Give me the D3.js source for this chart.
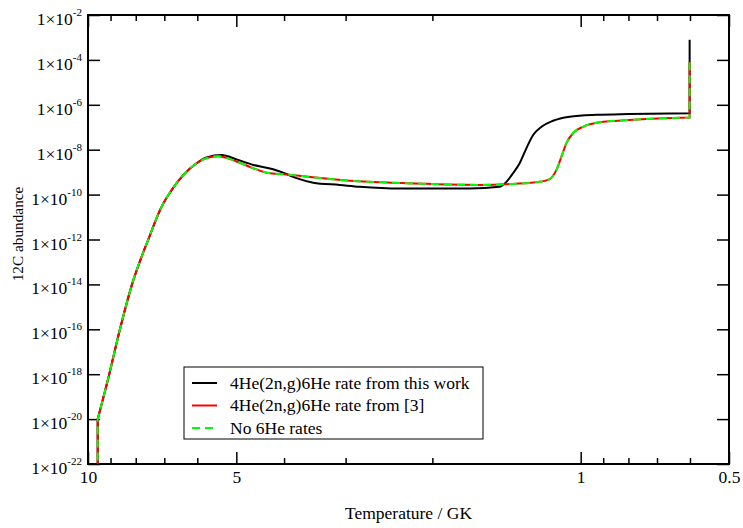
<!DOCTYPE html>
<html>
<head>
<meta charset="utf-8">
<script src="https://cdn.jsdelivr.net/npm/d3@7"></script>
<style>
  html, body { margin: 0; padding: 0; background: #fff; }
  svg { display: block; font-family: "Liberation Serif", "Times New Roman", serif; }
</style>
</head>
<body>
<svg id="chart" width="743" height="528"></svg>
<script>
// ---- Data ----
const seriesNames = ["4He(2n,g)6He rate from this work", "4He(2n,g)6He rate from [3]", "No 6He rates"];
const seriesColors = ["#000000", "#ff0000", "#00ff00"];

// Temperature (GK) and 12C abundance, "this work"
const tempThisWork = [9.557, 9.557, 9.054, 8.613, 8.140, 7.544, 7.088, 6.764, 6.408, 6.020, 5.745,
  5.356, 4.993, 4.620, 4.209, 4.017, 3.773, 3.491, 3.083, 2.807, 2.328, 1.680, 1.460, 1.415, 1.372, 1.330,
  1.289, 1.249, 1.201, 1.138, 1.053, 0.929, 0.796, 0.601, 0.601];
const abundThisWork = [1e-23, 9.8e-21, 1.0e-18, 1.0e-16, 1.0e-14, 1.0e-12, 2.9e-11, 1.6e-10, 7.4e-10, 2.5e-9, 4.5e-9,
  5.75e-9, 3.7e-9, 2.1e-9, 1.35e-9, 9.5e-10, 5.4e-10, 3.4e-10, 2.7e-10, 2.24e-10, 1.86e-10, 1.86e-10, 2.24e-10, 3.7e-10, 8.9e-10, 2.5e-9,
  1.15e-8, 4.5e-8, 1.05e-7, 1.95e-7, 2.95e-7, 3.6e-7, 3.9e-7, 4.2e-7, 7.8e-4];

// "from [3]"
const tempRef3 = [9.557, 9.557, 9.054, 8.613, 8.140, 7.544, 7.088, 6.764, 6.408, 6.020, 5.745,
  5.442, 4.993, 4.620, 4.341, 3.954, 3.496, 2.988, 2.328, 1.603, 1.372, 1.211, 1.156, 1.120, 1.094, 1.069,
  1.037, 0.989, 0.915, 0.796, 0.681, 0.601, 0.601];
const abundRef3 = [1e-23, 9.8e-21, 1.0e-18, 1.0e-16, 1.0e-14, 1.0e-12, 2.9e-11, 1.6e-10, 7.4e-10, 2.5e-9, 4.2e-9,
  5.1e-9, 3.0e-9, 1.5e-9, 9.5e-10, 7.9e-10, 5.9e-10, 4.2e-10, 3.3e-10, 2.7e-10, 3.0e-10, 3.7e-10, 4.9e-10, 1.26e-9, 4.9e-9, 1.95e-8,
  5.4e-8, 1.05e-7, 1.66e-7, 2.1e-7, 2.5e-7, 2.7e-7, 8.1e-5];

// "No 6He rates"
const tempNo6He = [9.557, 9.557, 9.054, 8.613, 8.140, 7.544, 7.088, 6.764, 6.408, 6.020, 5.745,
  5.442, 4.993, 4.620, 4.341, 3.954, 3.496, 2.988, 2.328, 1.603, 1.372, 1.211, 1.156, 1.120, 1.094, 1.069,
  1.037, 0.989, 0.915, 0.796, 0.681, 0.601, 0.601];
const abundNo6He = [1e-23, 9.8e-21, 1.0e-18, 1.0e-16, 1.0e-14, 1.0e-12, 2.9e-11, 1.6e-10, 7.4e-10, 2.5e-9, 4.2e-9,
  5.1e-9, 3.0e-9, 1.5e-9, 9.5e-10, 7.9e-10, 5.9e-10, 4.2e-10, 3.3e-10, 2.7e-10, 3.0e-10, 3.7e-10, 4.9e-10, 1.26e-9, 4.9e-9, 1.95e-8,
  5.4e-8, 1.05e-7, 1.66e-7, 2.1e-7, 2.5e-7, 2.7e-7, 8.1e-5];

const xMajorTicks = [10, 5, 1, 0.5];
const xTickLabels = ["10", "5", "1", "0.5"];
const xMinorTicks = [9, 8, 7, 6, 4, 3, 2, 0.9, 0.8, 0.7, 0.6];
const yTickExponents = [-2, -4, -6, -8, -10, -12, -14, -16, -18, -20, -22];

// ---- Layout ----
const svg = d3.select("#chart");
const L = 88, R = 729, T = 15, B = 464;

const x = d3.scaleLog().domain([10, 0.5]).range([L, R]);
const y = d3.scaleLog().domain([1e-22, 1e-2]).range([B, T]);

svg.append("defs").append("clipPath").attr("id", "clip")
  .append("rect").attr("x", L).attr("y", T).attr("width", R - L).attr("height", B - T);

// ---- Axes ----
const fs = 17.5;
const yTickVals = yTickExponents.map(e => Math.pow(10, e));

const bottomMajor = svg.append("g").attr("transform", `translate(0,${B})`)
  .call(d3.axisBottom(x).tickValues(xMajorTicks).tickSize(-12).tickPadding(7)
    .tickFormat((d, i) => xTickLabels[i]));
svg.append("g").attr("transform", `translate(0,${B})`)
  .call(d3.axisBottom(x).tickValues(xMinorTicks).tickSize(-6).tickFormat(""));
svg.append("g").attr("transform", `translate(0,${T})`)
  .call(d3.axisTop(x).tickValues(xMajorTicks).tickSize(-12).tickFormat(""));
svg.append("g").attr("transform", `translate(0,${T})`)
  .call(d3.axisTop(x).tickValues(xMinorTicks).tickSize(-6).tickFormat(""));
svg.append("g").attr("transform", `translate(${L},0)`)
  .call(d3.axisLeft(y).tickValues(yTickVals).tickSize(-12).tickFormat(""));
svg.append("g").attr("transform", `translate(${R},0)`)
  .call(d3.axisRight(y).tickValues(yTickVals).tickSize(-12).tickFormat(""));

svg.selectAll(".domain").remove();
svg.selectAll(".tick line").attr("stroke", "#000").attr("stroke-width", 1.5);
bottomMajor.selectAll(".tick text")
  .attr("font-family", "Liberation Serif").attr("font-size", fs).attr("fill", "#000")
  .attr("dy", null).attr("y", 19);

// y tick labels with superscripts
yTickExponents.forEach(e => {
  const t = svg.append("text")
    .attr("x", 82).attr("y", y(Math.pow(10, e)) + 10)
    .attr("text-anchor", "end")
    .attr("font-size", fs).attr("fill", "#000");
  t.append("tspan").text("1×10");
  t.append("tspan").attr("dy", -9).attr("font-size", 11).text(String(e));
});

// frame
svg.append("rect").attr("x", L).attr("y", T).attr("width", R - L).attr("height", B - T)
  .attr("fill", "none").attr("stroke", "#000").attr("stroke-width", 2);

// axis titles
svg.append("text").attr("x", (L + R) / 2).attr("y", 519).attr("text-anchor", "middle")
  .attr("font-size", fs).text("Temperature / GK");
svg.append("text").attr("transform", "translate(23,234) rotate(-90)").attr("text-anchor", "middle")
  .attr("font-size", 15.3).text("12C abundance");

// ---- Lines ----
// smooth middle part, straight vertical jumps at both ends
const smooth = d3.line().x(d => x(d[0])).y(d => y(d[1])).curve(d3.curveMonotoneX);
function seriesPath(data) {
  const first = data[0], last = data[data.length - 1];
  const mid = smooth(data.slice(1, -1));
  return "M" + x(first[0]) + "," + y(first[1]) + "L" + mid.slice(1) +
    "L" + x(last[0]) + "," + y(last[1]);
}

const plot = svg.append("g").attr("clip-path", "url(#clip)");
const series = [
  { t: tempThisWork, a: abundThisWork, color: seriesColors[0], dash: null },
  { t: tempRef3, a: abundRef3, color: seriesColors[1], dash: null },
  { t: tempNo6He, a: abundNo6He, color: seriesColors[2], dash: "8,5" }
];
series.forEach(s => {
  plot.append("path")
    .attr("d", seriesPath(d3.zip(s.t, s.a)))
    .attr("fill", "none")
    .attr("stroke", s.color)
    .attr("stroke-width", 2)
    .attr("stroke-linejoin", "miter")
    .attr("stroke-dasharray", s.dash);
});

// ---- Legend ----
const lg = svg.append("g");
lg.append("rect").attr("x", 184).attr("y", 367).attr("width", 299).attr("height", 72)
  .attr("fill", "#fff").attr("stroke", "#000").attr("stroke-width", 1);
const rowY = [383, 405.5, 428];
series.forEach((s, i) => {
  lg.append("line").attr("x1", 192).attr("x2", 217).attr("y1", rowY[i]).attr("y2", rowY[i])
    .attr("stroke", s.color).attr("stroke-width", 2).attr("stroke-dasharray", s.dash);
  lg.append("text").attr("x", 230).attr("y", rowY[i] + 5.5).attr("font-size", fs).text(seriesNames[i]);
});
</script>
</body>
</html>
